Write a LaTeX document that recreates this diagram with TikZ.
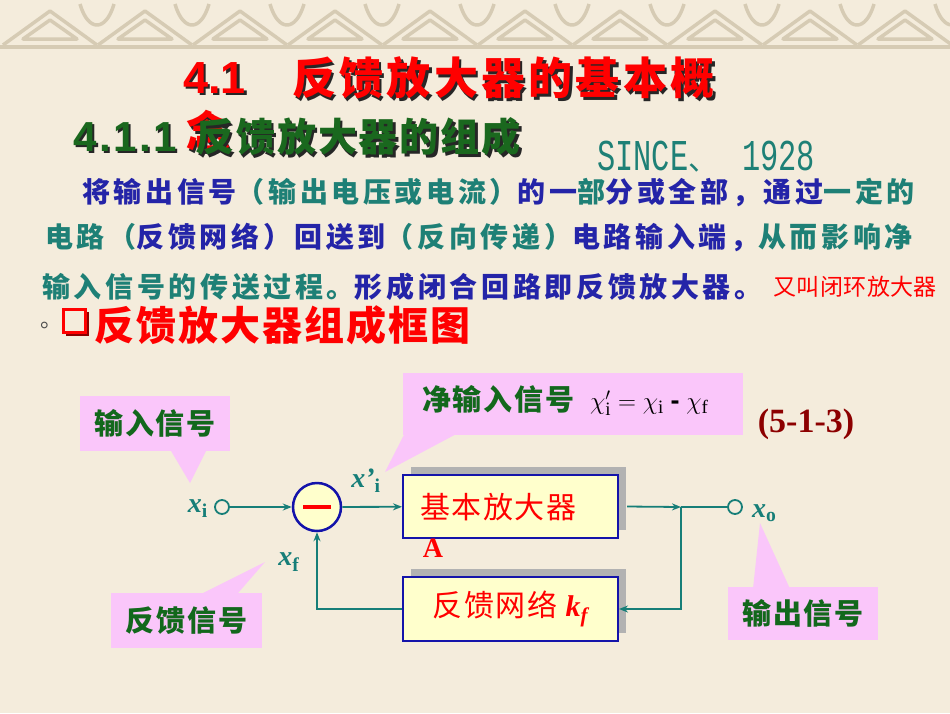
\documentclass[tikz,border=0pt]{standalone}
\usepackage{fontspec}
\setmainfont{Liberation Serif}
\setsansfont{Liberation Sans}
\newfontfamily\cjk{Noto Sans CJK SC}
\newfontfamily\sincefont[FakeStretch=0.69]{Liberation Mono}
\newcommand{\cjkls}[2]{\cjk\addfontfeatures{LetterSpace=#2}\fontsize{#1}{#1}\selectfont}
\usetikzlibrary{positioning,arrows.meta,shadows}

\definecolor{bgbeige}{RGB}{244,236,220}
\definecolor{bandbeige}{RGB}{214,203,180}
\definecolor{parablue}{RGB}{36,36,168}
\definecolor{parateal}{RGB}{30,128,118}
\definecolor{headgreen}{RGB}{26,104,30}
\definecolor{taggreen}{RGB}{18,104,28}
\definecolor{tagpink}{RGB}{250,198,250}
\definecolor{boxyellow}{RGB}{255,255,204}
\definecolor{boxblue}{RGB}{20,20,170}
\definecolor{lineteal}{RGB}{22,126,120}
\definecolor{darkred}{RGB}{140,0,0}

\tikzset{
  band/.style={draw=bandbeige,line width=3.5pt,line join=round},
  headshadow/.style={inner sep=0,anchor=west,text=black!85},
  head/.style={inner sep=0,anchor=west},
  para/.style={inner sep=0,anchor=west,font=\cjkls{28}{13}\bfseries},
  tag/.style={fill=tagpink,text=taggreen,inner sep=0,font=\cjkls{29}{6}\bfseries},
  tagtip/.style={fill=tagpink},
  block/.style={draw=boxblue,line width=2pt,fill=boxyellow,minimum width=215pt,inner sep=0,
    drop shadow={shadow xshift=8pt,shadow yshift=8pt,fill=black!30,opacity=1}},
  blocktext/.style={inner sep=0,text=red,font=\cjkls{30}{5}},
  sig/.style={draw=lineteal,line width=1.8pt},
  sigarrow/.style={sig,-{Stealth[length=9pt,width=7pt]}},
  terminal/.style={circle,draw=lineteal,line width=1.8pt,fill=bgbeige,minimum size=14pt,inner sep=0},
  siglabel/.style={inner sep=0,text=lineteal,font=\fontsize{28}{28}\selectfont\bfseries},
}

\begin{document}
\begin{tikzpicture}[x=1pt,y=-1pt]

\useasboundingbox (0,0) rectangle (950,713);
\fill[bgbeige] (0,0) rectangle (950,713);

% top border
\foreach \x in {50,145,...,1000} {
  \draw[band] (\x-47,45) -- (\x,11) -- (\x+47,45);
  \draw[band] (\x-27,39) -- (\x,20) -- (\x+27,39) -- cycle;
  \draw[band] (\x+30,4) .. controls (\x+38,32) and (\x+56,32) .. (\x+64,4);
}
\draw[band] (0,47) -- (950,47);

% headings
\node[headshadow,font=\sffamily\bfseries\fontsize{45}{45}\selectfont] (titlenumsh) at (185.5,80.5) {4.1};
\node[head,text=red,font=\sffamily\bfseries\fontsize{45}{45}\selectfont] (titlenum) at (183,78) {4.1};
\node[headshadow,font=\cjkls{44}{7.5}\bfseries] (titlesh) at (294.5,80.5) {反馈放大器的基本概};
\node[head,text=red,font=\cjkls{44}{7.5}\bfseries] (title) at (292,78) {反馈放大器的基本概};
\node[headshadow,font=\cjkls{44}{0}\bfseries] (titlewrapsh) at (188.5,133.5) {念};
\node[head,text=red,font=\cjkls{44}{0}\bfseries] (titlewrap) at (186,131) {念};

\node[headshadow,font=\sffamily\bfseries\fontsize{42}{42}\selectfont\addfontfeatures{LetterSpace=6}] (subnumsh) at (75.5,139.5) {4.1.1};
\node[head,text=headgreen,font=\sffamily\bfseries\fontsize{42}{42}\selectfont\addfontfeatures{LetterSpace=6}] (subnum) at (73,137) {4.1.1};
\node[headshadow,font=\cjkls{39}{5}\bfseries] (subtitlesh) at (197.5,139.5) {反馈放大器的组成};
\node[head,text=headgreen,font=\cjkls{39}{5}\bfseries] (subtitle) at (195,137) {反馈放大器的组成};

\node[head,text=parateal,font=\sincefont\fontsize{44}{44}\selectfont] (since) at (597,157)
  {SINCE\makebox[54pt][l]{\cjk\fontsize{30}{30}\selectfont 、}1928};

% paragraph
\node[para] (line1) at (82,193) {\color{parablue}将输出信号\color{parateal}（输出电压或电流）\color{parablue}的一\color{parateal}部\color{parablue}分或全部，通过\color{parateal}一定的};
\node[para] (line2) at (45,237) {\color{parateal}电路（\color{parablue}反馈网络）回送到\color{parateal}（反向传递）\color{parablue}电路输入端，\color{parateal}从而影响净};
\node[para] (line3) at (42,287) {\color{parateal}输入信号的传送过程。\color{parablue}形成闭合回路即反馈放大器。};
\node[head,text=red,font=\cjkls{23}{2}] (line3note) at (773,287) {又叫闭环放大器};
\node[head,text=black!70,font=\cjkls{22}{0}] (line4dot) at (40,325) {。};

\fill[darkred] (66,312) rectangle (89,336);
\draw[red,line width=3pt,fill=bgbeige] (63,309) rectangle (85,332);
\node[head,text=red,font=\cjkls{40}{5}\bfseries] (diagtitle) at (94,325) {反馈放大器组成框图};

% callouts
\node[tag,minimum width=150pt,minimum height=55pt] (tagin) at (155,423.5) {输入信号};
\coordinate (tipin) at (190,483);
\fill[tagtip] ([xshift=15pt,yshift=2pt]tagin.south) -- (tipin) -- ([xshift=52pt,yshift=2pt]tagin.south) -- cycle;

\node[tag,minimum width=340pt,minimum height=62pt] (tagnet) at (573,404) {};
\coordinate (tipnet) at (385,472);
\fill[tagtip] ([xshift=2pt,yshift=2pt]tagnet.south west) -- (tipnet) -- ([xshift=55pt,yshift=2pt]tagnet.south west) -- cycle;
\node[head,text=taggreen,font=\cjkls{29}{6}\bfseries] (netlabel) at (422,399) {净输入信号};
\node[head,font=\fontsize{27}{27}\selectfont] (netformula) at (590,403)
  {$\chi'_{\mathrm{i}}=\chi_{\mathrm{i}}$ \textsf{\bfseries -} $\chi_{\mathrm{f}}$};

\node[tag,minimum width=151pt,minimum height=55pt] (tagfb) at (186.5,620.5) {反馈信号};
\coordinate (tipfb) at (265,562);
\fill[tagtip] ([xshift=13pt,yshift=-2pt]tagfb.north) -- (tipfb) -- ([xshift=50pt,yshift=-2pt]tagfb.north) -- cycle;

\node[tag,minimum width=150pt,minimum height=53pt] (tagout) at (803,613.5) {输出信号};
\coordinate (tipout) at (760,523);
\fill[tagtip] ([xshift=-50pt,yshift=-2pt]tagout.north) -- (tipout) -- ([xshift=-13pt,yshift=-2pt]tagout.north) -- cycle;

\node[inner sep=0,text=darkred,font=\bfseries\fontsize{34}{34}\selectfont] (eqno) at (806,424) {(5-1-3)};

% blocks
\node[block,minimum height=63pt] (amp) at (510.5,506.5) {};
\node[blocktext,anchor=west] (amptext) at (420,507) {基本放大器};
\node[inner sep=0,text=red,font=\bfseries\fontsize{28}{28}\selectfont] (ampname) at (433,548) {A};
\node[block,minimum height=64pt,text=red,font=\cjkls{30}{5}] (fb) at (510.5,609)
  {反馈网络 {\rmfamily\bfseries\itshape k\textsubscript{f}}};

% summing point and terminals
\node[circle,draw=boxblue,line width=2.5pt,fill=boxyellow,minimum size=48pt,inner sep=0] (sum) at (317,507) {};
\draw[red,line width=3.5pt] ([xshift=-14pt]sum.center) -- ([xshift=14pt]sum.center);
\node[terminal] (xin) at (222,507) {};
\node[terminal] (xout) at (735,507) {};
\coordinate (split) at (681,507);

% signal lines
\draw[sigarrow] (xin) -- (sum);
\draw[sigarrow] (sum) -- (amp);
\draw[sigarrow] ([xshift=8pt]amp.east) -- (split);
\draw[sig] (split) -- (xout);
\draw[sigarrow] (split) |- (fb.east);
\draw[sigarrow] (fb.west) -| (sum.south);

% signal names
\node[siglabel,anchor=east] (xilabel) at (208,509) {\textit{x}\textsubscript{i}};
\node[siglabel] (xpilabel) at (366,481) {\textit{x’}\textsubscript{i}};
\node[siglabel] (xflabel) at (289,562) {\textit{x}\textsubscript{f}};
\node[siglabel,anchor=west] (xolabel) at (752,513) {\textit{x}\textsubscript{o}};

\end{tikzpicture}
\end{document}
